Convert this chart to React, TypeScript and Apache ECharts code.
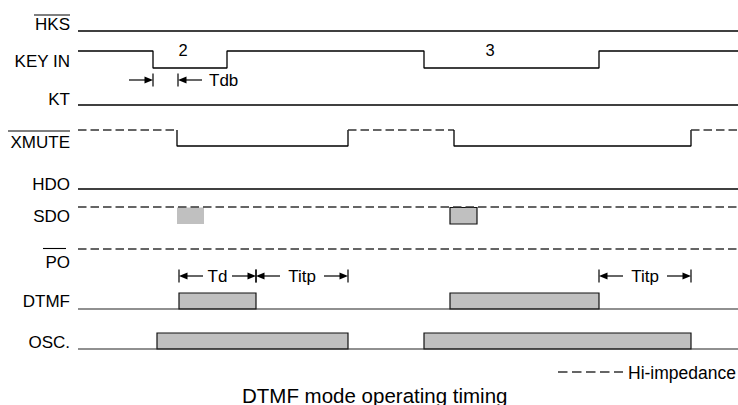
import React, { useEffect, useRef } from "react";
import * as echarts from "echarts";

// ---------- data ----------
const SIGNALS = ["HKS", "KEY IN", "KT", "XMUTE", "HDO", "SDO", "PO", "DTMF", "OSC."];
const OVERLINED = ["HKS", "XMUTE", "PO"];
const TIME_START = 78;
const TIME_END = 738;
const KEY_PRESSES = [[153, 227], [424, 599]];
const KEY_DIGITS = ["2", "3"];
const KEY_DIGIT_T = [183, 490];
const XMUTE_ACTIVE = [[177, 348], [454, 691]];
const SDO_PULSES = [[177, 204], [450, 477]];
const DTMF_BURSTS = [[179, 256], [450, 599]];
const OSC_RUNS = [[157, 348], [424, 691]];
const TIMING_NAMES = ["Tdb", "Td", "Titp", "Titp"];
const TIMING_FROM = [153, 179, 256, 599];
const TIMING_TO = [178, 256, 348, 691];
const TITLE = "DTMF mode operating timing";
const LEGEND_LABEL = "Hi-impedance";

// ---------- layout / style ----------
const FONT = '"Liberation Sans", Arial, Helvetica, sans-serif';
const ROWS: Record<string, { label: number; hi?: number; lo?: number; z?: number; over?: [number, number, number] }> = {
  "HKS": { label: 24, lo: 31, over: [34, 70, 15] },
  "KEY IN": { label: 61, hi: 51, lo: 68 },
  "KT": { label: 99, lo: 105 },
  "XMUTE": { label: 142.5, hi: 130, lo: 146, over: [8, 70, 131] },
  "HDO": { label: 184, lo: 189 },
  "SDO": { label: 216, z: 207, lo: 224 },
  "PO": { label: 262, z: 249, over: [43, 66, 248.5] },
  "DTMF": { label: 301, hi: 293, lo: 309 },
  "OSC.": { label: 342, hi: 333, lo: 349 },
};
const LABEL_RIGHT = 70;
const DIGIT_Y = 50;
const TIMING_STYLE = ["outside", "inside", "inside", "inside"];
const TIMING_Y = [80, 276, 276, 276];
const SDO_BORDER = [false, true];
const GRAY = "#c0c0c0";
const DASH = [8.5, 4];
const LW = 1.3;

function line(points: number[][], dashed = false) {
  return {
    type: "line",
    data: points,
    symbol: "none",
    silent: true,
    z: 3,
    lineStyle: { color: dashed ? "#333" : "#000", width: LW, type: dashed ? DASH : "solid" },
  };
}

function buildSeries() {
  const s: any[] = [];
  ["HKS", "KT", "HDO"].forEach((n) => {
    s.push(line([[TIME_START, ROWS[n].lo!], [TIME_END, ROWS[n].lo!]]));
  });
  {
    const r = ROWS["KEY IN"];
    const pts: number[][] = [[TIME_START, r.hi!]];
    KEY_PRESSES.forEach(([a, b]) => {
      pts.push([a, r.hi!], [a, r.lo!], [b, r.lo!], [b, r.hi!]);
    });
    pts.push([TIME_END, r.hi!]);
    s.push(line(pts));
  }
  {
    const r = ROWS["XMUTE"];
    let cur = TIME_START;
    XMUTE_ACTIVE.forEach(([a, b]) => {
      s.push(line([[cur, r.hi!], [a, r.hi!]], true));
      s.push(line([[a, r.hi!], [a, r.lo!], [b, r.lo!], [b, r.hi!]]));
      cur = b;
    });
    s.push(line([[cur, r.hi!], [TIME_END, r.hi!]], true));
  }
  s.push(line([[TIME_START, ROWS["SDO"].z!], [TIME_END, ROWS["SDO"].z!]], true));
  s.push(line([[TIME_START, ROWS["PO"].z!], [TIME_END, ROWS["PO"].z!]], true));
  ["DTMF", "OSC."].forEach((n) => {
    s.push({ ...line([[TIME_START, ROWS[n].lo!], [TIME_END, ROWS[n].lo!]]), lineStyle: { color: "#222", width: 1.1 } });
  });

  const boxes = (data: number[][], top: number, bottom: number, border: (i: number) => boolean) => ({
    type: "custom",
    silent: true,
    z: 2,
    clip: false,
    data,
    renderItem: (params: any, api: any) => {
      const p1 = api.coord([api.value(0), top]);
      const p2 = api.coord([api.value(1), bottom]);
      const b = border(params.dataIndex);
      return {
        type: "rect",
        shape: { x: p1[0], y: p1[1], width: p2[0] - p1[0], height: p2[1] - p1[1] },
        style: { fill: GRAY, stroke: b ? "#111" : null, lineWidth: b ? 1.2 : 0 },
      };
    },
  });
  s.push(boxes(SDO_PULSES, ROWS["SDO"].z! + 0.5, ROWS["SDO"].lo!, (i) => SDO_BORDER[i]));
  s.push(boxes(DTMF_BURSTS, ROWS["DTMF"].hi!, ROWS["DTMF"].lo!, () => true));
  s.push(boxes(OSC_RUNS, ROWS["OSC."].hi!, ROWS["OSC."].lo!, () => true));

  s.push({
    type: "custom",
    silent: true,
    clip: false,
    z: 5,
    data: SIGNALS.map((_, i) => [i, 0]),
    renderItem: (params: any, api: any) => {
      const name = SIGNALS[params.dataIndex];
      const r = ROWS[name];
      const p = api.coord([LABEL_RIGHT, r.label]);
      const children: any[] = [
        {
          type: "text",
          style: {
            text: name, x: p[0], y: p[1], fill: "#000",
            font: `17px ${FONT}`, textAlign: "right", textVerticalAlign: "middle",
            align: "right", verticalAlign: "middle",
          },
        },
      ];
      if (OVERLINED.includes(name) && r.over) {
        const a = api.coord([r.over[0], r.over[2]]);
        const b = api.coord([r.over[1], r.over[2]]);
        children.push({ type: "line", shape: { x1: a[0], y1: a[1], x2: b[0], y2: b[1] }, style: { stroke: "#000", lineWidth: 1.1 } });
      }
      return { type: "group", children };
    },
  });

  s.push({
    type: "custom",
    silent: true,
    clip: false,
    z: 5,
    data: KEY_DIGIT_T.map((t) => [t, DIGIT_Y]),
    renderItem: (params: any, api: any) => {
      const p = api.coord([api.value(0), api.value(1)]);
      return {
        type: "text",
        style: {
          text: KEY_DIGITS[params.dataIndex], x: p[0], y: p[1], fill: "#000",
          font: `16.5px ${FONT}`, textAlign: "center", textVerticalAlign: "middle",
          align: "center", verticalAlign: "middle",
        },
      };
    },
  });

  const L = 24, AH = 8.5, AW = 3.4, BAR = 6.5;
  s.push({
    type: "custom",
    silent: true,
    clip: false,
    z: 5,
    data: TIMING_FROM.map((f, i) => [f, TIMING_TO[i]]),
    renderItem: (params: any, api: any) => {
      const i = params.dataIndex;
      const y0 = TIMING_Y[i];
      const a = api.coord([api.value(0), y0]);
      const b = api.coord([api.value(1), y0]);
      const y = a[1];
      const st = { stroke: "#000", lineWidth: 1.2 };
      const ch: any[] = [];
      const bar = (x: number) => ch.push({ type: "line", shape: { x1: x, y1: y - BAR, x2: x, y2: y + BAR }, style: st });
      const arrow = (tip: number, tail: number) => {
        const dir = tail > tip ? 1 : -1;
        ch.push({ type: "line", shape: { x1: tail, y1: y, x2: tip + dir * AH * 0.5, y2: y }, style: st });
        ch.push({ type: "polygon", shape: { points: [[tip, y], [tip + dir * AH, y - AW], [tip + dir * AH, y + AW]] }, style: { fill: "#000" } });
      };
      bar(a[0]);
      bar(b[0]);
      const text = (x: number, align: string) =>
        ch.push({
          type: "text",
          style: {
            text: TIMING_NAMES[i], x, y, fill: "#000", font: `17px ${FONT}`,
            textAlign: align, textVerticalAlign: "middle", align, verticalAlign: "middle",
          },
        });
      if (TIMING_STYLE[i] === "outside") {
        arrow(a[0], a[0] - L);
        arrow(b[0], b[0] + L);
        text(b[0] + L + 7, "left");
      } else {
        arrow(a[0], a[0] + L);
        arrow(b[0], b[0] - L);
        text((a[0] + b[0]) / 2, "center");
      }
      return { type: "group", children: ch };
    },
  });
  return s;
}

export default function App() {
  const ref = useRef<HTMLDivElement>(null);
  useEffect(() => {
    if (!ref.current) return;
    const chart = echarts.init(ref.current, null, { renderer: "svg" });
    chart.setOption({
      animation: false,
      backgroundColor: "#fff",
      title: {
        text: TITLE,
        left: 242,
        top: 385,
        padding: 0,
        textStyle: { fontSize: 20.5, fontWeight: "normal", fontFamily: FONT, color: "#000", lineHeight: 20 },
      },
      grid: { left: 0, right: 0, top: 0, bottom: 0 },
      xAxis: { type: "value", min: 0, max: 738, show: false },
      yAxis: { type: "value", min: 0, max: 405, inverse: true, show: false },
      graphic: [
        { type: "line", shape: { x1: 558, y1: 372, x2: 623, y2: 372 }, style: { stroke: "#333", lineWidth: LW, lineDash: [9.5, 4.5] } },
        {
          type: "text",
          x: 628,
          y: 373,
          style: { text: LEGEND_LABEL, fill: "#000", font: `17.5px ${FONT}`, textAlign: "left", textVerticalAlign: "middle", align: "left", verticalAlign: "middle" },
        },
      ],
      series: buildSeries(),
    });
    return () => chart.dispose();
  }, []);
  return <div ref={ref} style={{ position: "fixed", left: 0, top: 0, width: 738, height: 405, background: "#fff" }} />;
}
